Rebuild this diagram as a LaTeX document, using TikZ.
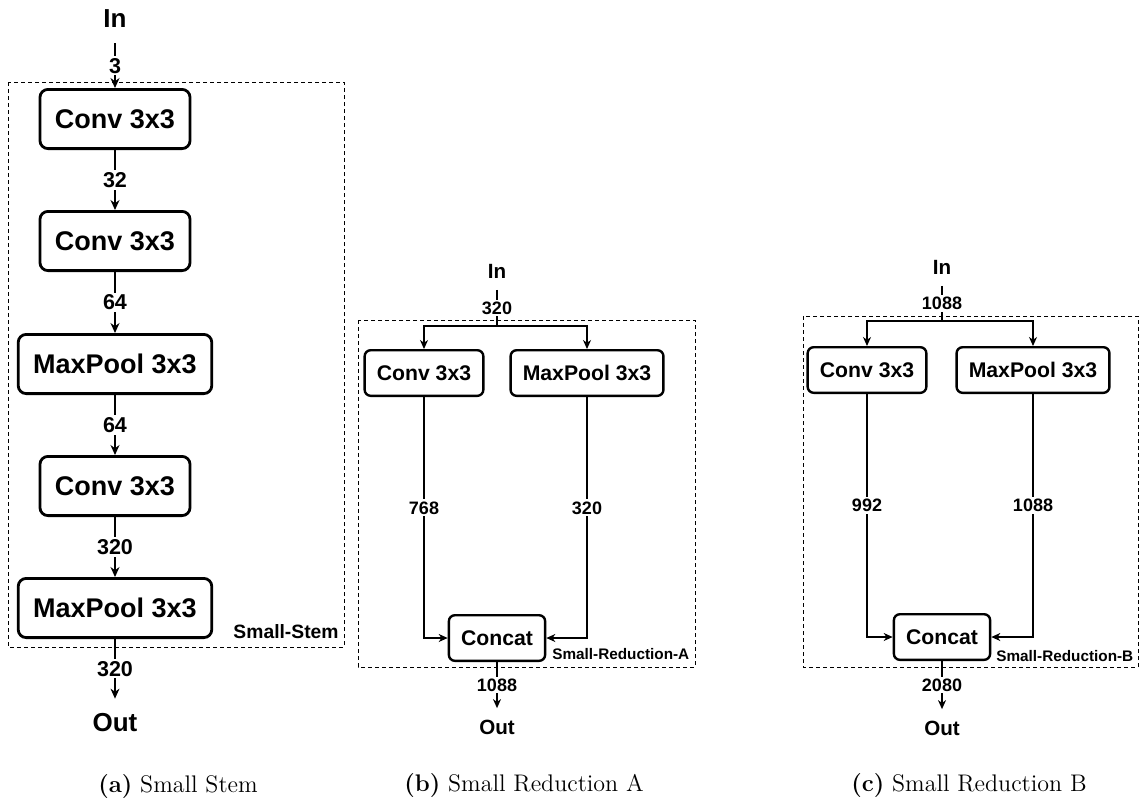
\documentclass[tikz,border=0pt]{standalone}
\usepackage{fontspec}
\newfontfamily\arialfont{Liberation Sans}
\usetikzlibrary{arrows.meta}

\tikzset{
  blockA/.style={draw, rounded corners=4pt, line width=1.4pt, fill=white,
    minimum height=29.6pt, inner xsep=7.5pt,
    font=\arialfont\bfseries\fontsize{13.5}{16}\selectfont},
  blockB/.style={draw, rounded corners=3pt, line width=1.2pt, fill=white,
    minimum height=22.8pt, inner xsep=6.1pt,
    font=\arialfont\bfseries\fontsize{10.6}{13}\selectfont},
  termA/.style={minimum height=24pt, inner sep=0pt,
    font=\arialfont\bfseries\fontsize{13}{15}\selectfont},
  termB/.style={minimum height=18.5pt, inner sep=0pt,
    font=\arialfont\bfseries\fontsize{10.3}{12}\selectfont},
  numA/.style={fill=white, inner sep=1pt,
    font=\arialfont\bfseries\fontsize{10.75}{12}\selectfont},
  numB/.style={fill=white, inner sep=1pt,
    font=\arialfont\bfseries\fontsize{9}{11}\selectfont},
  flowA/.style={line width=0.6pt, -{Stealth[length=5pt, width=4.5pt, inset=1.6pt]}},
  flowB/.style={line width=0.6pt, -{Stealth[length=4.5pt, width=4pt, inset=1.4pt]}},
  frame/.style={line width=0.5pt, dash pattern=on 2pt off 1.5pt},
  caption/.style={anchor=base, font=\fontsize{12}{14}\selectfont}
}

\begin{document}
\begin{tikzpicture}[x=0.5pt, y=-0.5pt]
\useasboundingbox (0,0) rectangle (1140,799);

% (a) small stem
\draw[frame] (8,82) rectangle (344,647);
\node[termA] (inA) at (115,19) {In};
\foreach \nm/\txt/\y in {c1/Conv 3x3/119, c2/Conv 3x3/241, p1/MaxPool 3x3/364,
                         c3/Conv 3x3/486, p2/MaxPool 3x3/608}{
\node[blockA] (\nm) at (115,\y) {\txt};
}
\node[termA] (outA) at (115,723) {Out};
\foreach \a/\b/\n in {inA/c1/3, c1/c2/32, c2/p1/64, p1/c3/64, c3/p2/320, p2/outA/320}{
\draw[flowA] (\a) -- node[numA] {\n} (\b);
}
\node[anchor=base east, inner sep=0pt,
      font=\arialfont\bfseries\fontsize{9.65}{11}\selectfont] (stemname) at (339,638) {Small-Stem};
\node[caption] (capA) at (178,792) {\textbf{(a)} Small Stem};

% (b) small reduction A
\draw[frame] (358,320) rectangle (695,667);
\node[termB] (inB) at (497,271) {In};
\coordinate (forkB) at (497,326);
\node[blockB] (convB) at (424,373) {Conv 3x3};
\node[blockB] (poolB) at (587,373) {MaxPool 3x3};
\node[blockB] (catB) at (497,638) {Concat};
\node[termB] (outB) at (497,727) {Out};
\draw[line width=0.6pt] (inB) -- node[numB] {320} (forkB);
\draw[flowB] (forkB) -| (convB);
\draw[flowB] (forkB) -| (poolB);
\draw[flowB] (convB) |- node[numB, pos=0.23] {768} (catB);
\draw[flowB] (poolB) |- node[numB, pos=0.23] {320} (catB);
\draw[flowB] (catB) -- node[numB] {1088} (outB);
\node[anchor=base west, inner sep=0pt,
      font=\arialfont\bfseries\fontsize{7.65}{9}\selectfont] (redAname) at (552,659) {Small-Reduction-A};
\node[caption] (capB) at (524,791) {\textbf{(b)} Small Reduction A};

% (c) small reduction B
\draw[frame] (803,316) rectangle (1138,667);
\node[termB] (inC) at (942,267) {In};
\coordinate (forkC) at (942,321);
\node[blockB] (convC) at (867,370) {Conv 3x3};
\node[blockB] (poolC) at (1033,370) {MaxPool 3x3};
\node[blockB] (catC) at (942,637) {Concat};
\node[termB] (outC) at (942,728) {Out};
\draw[line width=0.6pt] (inC) -- node[numB] {1088} (forkC);
\draw[flowB] (forkC) -| (convC);
\draw[flowB] (forkC) -| (poolC);
\draw[flowB] (convC) |- node[numB, pos=0.23] {992} (catC);
\draw[flowB] (poolC) |- node[numB, pos=0.23] {1088} (catC);
\draw[flowB] (catC) -- node[numB] {2080} (outC);
\node[anchor=base west, inner sep=0pt,
      font=\arialfont\bfseries\fontsize{7.65}{9}\selectfont] (redBname) at (996,661) {Small-Reduction-B};
\node[caption] (capC) at (969,791) {\textbf{(c)} Small Reduction B};
\end{tikzpicture}
\end{document}
